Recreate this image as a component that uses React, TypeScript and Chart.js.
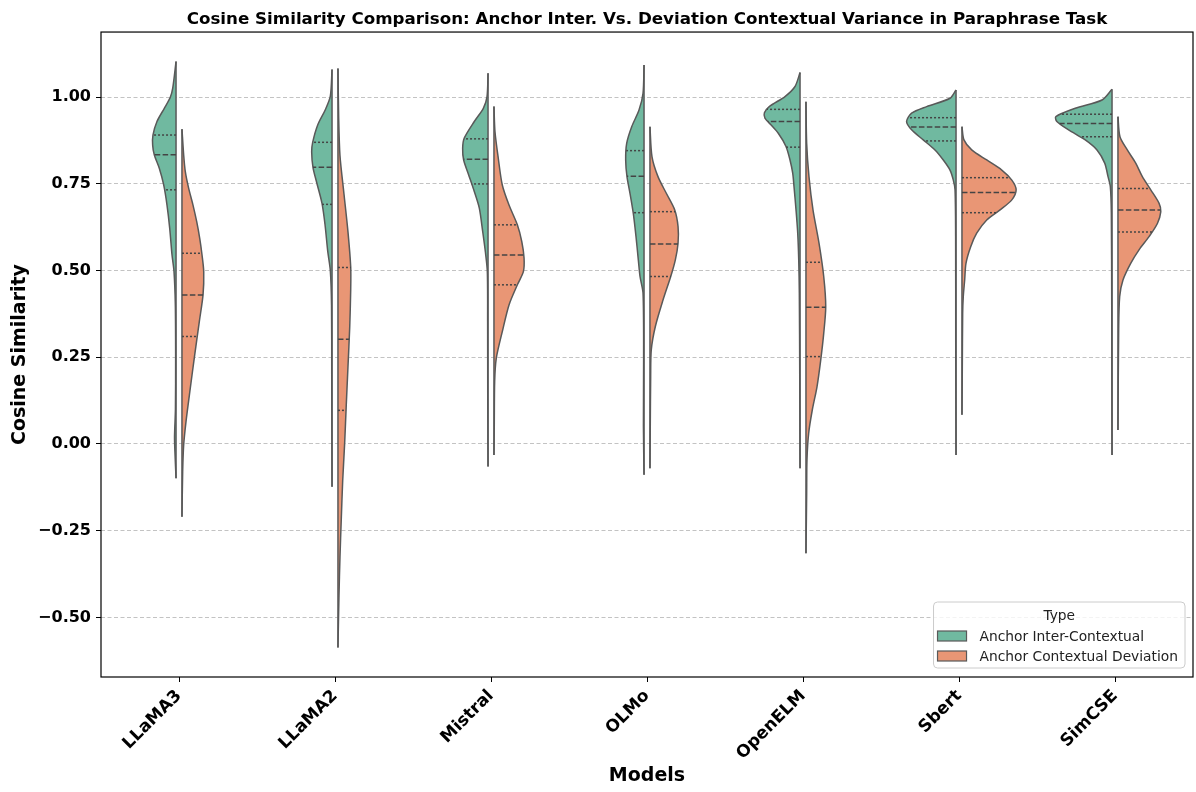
import React, { useEffect, useRef } from 'react';
import { Chart, registerables } from 'chart.js';

Chart.register(...registerables);

const TITLE = 'Cosine Similarity Comparison: Anchor Inter. Vs. Deviation Contextual Variance in Paraphrase Task';
const MODELS = ['LLaMA3', 'LLaMA2', 'Mistral', 'OLMo', 'OpenELM', 'Sbert', 'SimCSE'];
const TYPES = ['Anchor Inter-Contextual', 'Anchor Contextual Deviation'];
const Y_TICKS = [-0.5, -0.25, 0, 0.25, 0.5, 0.75, 1.0];

// Kernel-density outline of each half violin: similarity levels (top to bottom) and relative density at each level
const INTER_LEVELS = [
  [1.103, 1.026, 1.0, 0.968, 0.93, 0.891, 0.862, 0.834, 0.795, 0.747, 0.689, 0.622, 0.545, 0.497, 0.40, 0.25, 0.10, 0.02, -0.03, -0.099],
  [1.080, 1.003, 0.964, 0.920, 0.870, 0.843, 0.798, 0.754, 0.694, 0.633, 0.556, 0.50, 0.40, 0.20, -0.123],
  [1.069, 1.002, 0.968, 0.93, 0.882, 0.853, 0.819, 0.776, 0.728, 0.680, 0.612, 0.555, 0.497, 0.35, 0.15, -0.065],
  [1.093, 1.011, 0.963, 0.915, 0.867, 0.819, 0.771, 0.723, 0.665, 0.598, 0.531, 0.483, 0.435, 0.25, 0.05, -0.089],
  [1.071, 1.031, 1.002, 0.973, 0.955, 0.940, 0.922, 0.896, 0.858, 0.819, 0.781, 0.742, 0.675, 0.608, 0.531, 0.435, 0.2, -0.070],
  [1.021, 0.997, 0.973, 0.954, 0.930, 0.906, 0.877, 0.848, 0.819, 0.790, 0.761, 0.733, 0.6, 0.3, -0.032],
  [1.023, 0.992, 0.968, 0.944, 0.930, 0.906, 0.877, 0.848, 0.810, 0.771, 0.742, 0.666, 0.4, -0.032],
];
const INTER_DENSITY = [
  [0, 3.3, 5.7, 11.7, 19, 23, 23.3, 21.7, 16.7, 12.3, 9, 6.3, 4, 2, 0.7, 0.4, 0.6, 1.5, 1.0, 0],
  [0, 1.7, 6.7, 14.3, 19.3, 20.3, 19, 15.3, 10, 7, 4.3, 1.7, 0.5, 0.3, 0],
  [0, 1, 4.7, 13.7, 23.7, 25.3, 24.3, 19.3, 13.7, 8.7, 5.3, 2.7, 0.7, 0.4, 0.3, 0],
  [0, 1, 5, 12.3, 17.3, 18.3, 17, 14, 10.7, 8, 5.7, 4, 1, 0.4, 0.6, 0],
  [0, 5, 15, 30.7, 35.5, 35, 29.5, 21.7, 14, 10, 7.3, 6, 4, 2.3, 1.3, 0.7, 0.3, 0],
  [0, 6, 29.3, 44.3, 49.3, 44.3, 32.7, 21, 12.7, 6, 2.7, 1, 0.4, 0.3, 0],
  [0, 10, 36.7, 56, 55, 43.3, 26.7, 15, 7.3, 4, 1.7, 0.7, 0.3, 0],
];
const DEV_LEVELS = [
  [0.908, 0.834, 0.786, 0.737, 0.689, 0.641, 0.593, 0.545, 0.497, 0.430, 0.353, 0.305, 0.257, 0.161, 0.064, -0.003, -0.08, -0.21],
  [1.083, 0.942, 0.832, 0.721, 0.611, 0.511, 0.445, 0.335, 0.224, 0.114, 0.004, -0.107, -0.217, -0.327, -0.438, -0.587],
  [0.973, 0.901, 0.824, 0.747, 0.689, 0.632, 0.584, 0.536, 0.497, 0.459, 0.401, 0.324, 0.247, 0.18, 0.05, -0.032],
  [0.915, 0.829, 0.771, 0.723, 0.675, 0.627, 0.579, 0.531, 0.483, 0.415, 0.338, 0.271, 0.194, 0.05, -0.070],
  [0.987, 0.867, 0.771, 0.675, 0.579, 0.483, 0.396, 0.319, 0.242, 0.165, 0.098, 0.031, -0.046, -0.142, -0.315],
  [0.915, 0.877, 0.848, 0.819, 0.790, 0.761, 0.733, 0.704, 0.675, 0.646, 0.608, 0.569, 0.521, 0.473, 0.425, 0.377, 0.2, 0.084],
  [0.944, 0.886, 0.848, 0.810, 0.771, 0.733, 0.694, 0.670, 0.636, 0.598, 0.560, 0.521, 0.473, 0.425, 0.329, 0.040],
];
const DEV_DENSITY = [
  [0, 1.7, 3.3, 6.7, 11, 14.7, 17.7, 20, 21.7, 21, 17.3, 15, 12.7, 8.3, 4, 1.7, 0.7, 0],
  [0, 0.7, 2, 6, 10, 12.7, 12.7, 11.7, 10, 8.3, 6.7, 4.7, 3.3, 2, 1, 0],
  [0, 1, 4.3, 8.3, 15, 23.3, 27.7, 30, 29.3, 23.3, 15, 8.3, 2.3, 0.7, 0.3, 0],
  [0, 2, 8, 16.3, 24.7, 28, 28, 25.3, 20.7, 13, 5.3, 1.3, 0.7, 0.3, 0],
  [0, 0.7, 3, 7, 13, 17.7, 19.7, 17.7, 14.7, 11, 6.3, 2.7, 1, 0.7, 0],
  [0, 2, 9.7, 24.7, 39.7, 49.7, 54, 49.7, 38, 24.7, 14.7, 8.7, 4, 2.7, 1.3, 0.7, 0.3, 0],
  [0, 2, 9.3, 17.7, 24.3, 32.7, 41, 42.7, 39.3, 31, 21, 12.7, 5, 1.7, 0.7, 0],
];
// Quartiles [Q3, median, Q1]
const INTER_QUARTILES = [
  [0.891, 0.834, 0.733],
  [0.870, 0.798, 0.691],
  [0.880, 0.821, 0.750],
  [0.846, 0.772, 0.667],
  [0.965, 0.930, 0.856],
  [0.941, 0.914, 0.874],
  [0.951, 0.924, 0.886],
];
const DEV_QUARTILES = [
  [0.550, 0.430, 0.310],
  [0.509, 0.302, 0.097],
  [0.632, 0.545, 0.459],
  [0.670, 0.577, 0.483],
  [0.524, 0.394, 0.252],
  [0.768, 0.725, 0.667],
  [0.737, 0.675, 0.611],
];

const FONT = '"DejaVu Sans", "Liberation Sans", sans-serif';
const FILLS = ['#70b9a0', '#e99675'];
const OUTLINE = '#595959';
const DENSITY_SCALE = 1 / 155.5;
const HALF_GAP = 0.019;

function densityAt(levels: number[], dens: number[], y: number): number {
  for (let k = 0; k < levels.length - 1; k++) {
    const a = levels[k], b = levels[k + 1];
    if (y <= a && y >= b) {
      const t = (a - y) / (a - b);
      return dens[k] + t * (dens[k + 1] - dens[k]);
    }
  }
  return 0;
}

function buildDatasets() {
  const shapes: any[] = [];
  const lines: any[] = [];
  const groups = [
    { levels: INTER_LEVELS, dens: INTER_DENSITY, quart: INTER_QUARTILES, dir: -1, fill: FILLS[0] },
    { levels: DEV_LEVELS, dens: DEV_DENSITY, quart: DEV_QUARTILES, dir: 1, fill: FILLS[1] },
  ];
  MODELS.forEach((_, i) => {
    groups.forEach((g) => {
      const levels = g.levels[i];
      const dens = g.dens[i];
      const base = i + g.dir * HALF_GAP;
      shapes.push({
        type: 'line',
        data: levels.map((y, k) => ({ x: base + g.dir * dens[k] * DENSITY_SCALE, y })),
        borderColor: OUTLINE,
        borderWidth: 1.5,
        backgroundColor: g.fill,
        fill: 'shape',
        tension: 0.28,
        pointRadius: 0,
        borderJoinStyle: 'round',
        order: 2,
      });
      lines.push({
        type: 'line',
        data: [
          { x: base, y: levels[0] },
          { x: base, y: levels[levels.length - 1] },
        ],
        borderColor: OUTLINE,
        borderWidth: 1.5,
        fill: false,
        tension: 0,
        pointRadius: 0,
        order: 1,
      });
      g.quart[i].forEach((q, j) => {
        const w = densityAt(levels, dens, q);
        lines.push({
          type: 'line',
          data: [
            { x: base, y: q },
            { x: base + g.dir * w * DENSITY_SCALE, y: q },
          ],
          borderColor: '#444444',
          borderWidth: 1.5,
          borderDash: j === 1 ? [5.5, 2.4] : [2, 2],
          fill: false,
          tension: 0,
          pointRadius: 0,
          order: 0,
        });
      });
    });
  });
  return [...lines, ...shapes];
}

const framePlugin = {
  id: 'frame',
  afterDatasetsDraw(chart: any) {
    const { ctx, chartArea: a } = chart;
    ctx.save();
    ctx.strokeStyle = '#000';
    ctx.lineWidth = 1.2;
    ctx.strokeRect(a.left, a.top, a.right - a.left, a.bottom - a.top);
    ctx.restore();
  },
};

const legendPlugin = {
  id: 'violinLegend',
  afterDraw(chart: any) {
    const { ctx, chartArea: a } = chart;
    ctx.save();
    ctx.font = `13.8px ${FONT}`;
    const textW = Math.max(...TYPES.map((t) => ctx.measureText(t).width));
    const padL = 4, patchW = 29, patchH = 10, gap = 13, padR = 7;
    const w = padL + patchW + gap + textW + padR;
    const h = 66;
    const right = a.right - 8;
    const bottom = a.bottom - 9;
    const left = right - w;
    const top = bottom - h;
    ctx.beginPath();
    ctx.roundRect(left, top, w, h, 4);
    ctx.fillStyle = 'rgba(255,255,255,0.8)';
    ctx.fill();
    ctx.strokeStyle = '#cccccc';
    ctx.lineWidth = 1;
    ctx.stroke();
    ctx.fillStyle = '#222';
    ctx.textBaseline = 'middle';
    ctx.textAlign = 'center';
    ctx.fillText('Type', left + w / 2, top + 14);
    ctx.textAlign = 'left';
    TYPES.forEach((t, k) => {
      const cy = top + 34 + k * 20;
      ctx.fillStyle = FILLS[k];
      ctx.fillRect(left + padL, cy - patchH / 2, patchW, patchH);
      ctx.strokeStyle = OUTLINE;
      ctx.lineWidth = 1.2;
      ctx.strokeRect(left + padL, cy - patchH / 2, patchW, patchH);
      ctx.fillStyle = '#222';
      ctx.fillText(t, left + padL + patchW + gap, cy + 1);
    });
    ctx.restore();
  },
};

export default function App() {
  const canvasRef = useRef<HTMLCanvasElement | null>(null);

  useEffect(() => {
    const canvas = canvasRef.current;
    if (!canvas) return;
    const chart = new Chart(canvas, {
      type: 'line',
      data: { datasets: buildDatasets() },
      options: {
        animation: false,
        responsive: false,
        events: [],
        layout: { padding: { left: 0, right: 3, top: 0, bottom: 0 } },
        plugins: {
          legend: { display: false },
          tooltip: { enabled: false },
          title: {
            display: true,
            text: TITLE,
            fullSize: false,
            color: '#000',
            font: { family: FONT, size: 16.7, weight: 'bold' },
            padding: { top: 10, bottom: 2 },
          },
        },
        scales: {
          x: {
            type: 'linear',
            min: -0.5,
            max: 6.5,
            afterBuildTicks: (s: any) => {
              s.ticks = MODELS.map((_, i) => ({ value: i }));
            },
            afterFit: (s: any) => {
              s.height = 115;
            },
            ticks: {
              callback: (v: any) => MODELS[Math.round(Number(v))],
              color: '#000',
              font: { family: FONT, size: 17, weight: 'bold' },
              minRotation: 45,
              maxRotation: 45,
              autoSkip: false,
              padding: 4,
            },
            grid: {
              drawOnChartArea: false,
              drawTicks: true,
              tickLength: 5,
              tickColor: '#000',
              tickWidth: 1,
            },
            border: { display: false },
            title: {
              display: true,
              text: 'Models',
              color: '#000',
              font: { family: FONT, size: 19, weight: 'bold' },
              padding: { top: 0, bottom: 5 },
            },
          },
          y: {
            type: 'linear',
            min: -0.672,
            max: 1.188,
            afterBuildTicks: (s: any) => {
              s.ticks = Y_TICKS.map((v) => ({ value: v }));
            },
            afterFit: (s: any) => {
              s.width = 101;
            },
            ticks: {
              callback: (v: any) => (Number(v) < 0 ? '\u2212' : '') + Math.abs(Number(v)).toFixed(2),
              color: '#000',
              font: { family: FONT, size: 16, weight: 'bold' },
              padding: 5,
            },
            grid: {
              color: 'rgba(175,175,175,0.75)',
              lineWidth: 1,
              tickColor: '#000',
              tickLength: 5,
              tickWidth: 1,
              tickBorderDash: [],
            },
            border: { display: false, dash: [4, 2.5] },
            title: {
              display: true,
              text: 'Cosine Similarity',
              color: '#000',
              font: { family: FONT, size: 19, weight: 'bold' },
              padding: { top: 8.6, bottom: 0 },
            },
          },
        },
      } as any,
      plugins: [framePlugin, legendPlugin],
    } as any);
    return () => chart.destroy();
  }, []);

  return (
    <div style={{ position: 'absolute', left: 0, top: 0, width: 1196, height: 792, background: '#fff' }}>
      <canvas ref={canvasRef} width={1196} height={792} style={{ display: 'block', width: 1196, height: 792 }} />
    </div>
  );
}
